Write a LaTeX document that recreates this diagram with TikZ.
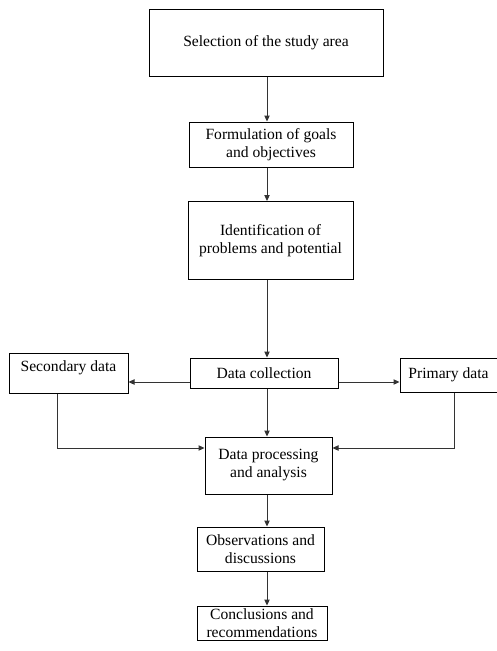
\documentclass[tikz,border=0pt]{standalone}
\usepackage{fontspec}
\setmainfont{Liberation Serif}
\usetikzlibrary{arrows.meta}
\begin{document}
\begin{tikzpicture}[x=0.75pt,y=-0.75pt,
  box/.style={draw=black,line width=0.75pt,inner sep=0pt,align=center,
    font=\fontsize{11.7}{13.5}\selectfont},
  lbl/.style={inner sep=0pt,align=center,font=\fontsize{11.7}{13.5}\selectfont},
  conn/.style={draw=black!80,line width=0.75pt},
  arr/.style={conn,-{Triangle[length=4.5pt,width=4pt]}}]
\useasboundingbox (0,0) rectangle (497,651);
% boxes
\node[box,minimum width=234*0.75pt,minimum height=67*0.75pt] (sel) at (266,42.5) {Selection of the study area};
\node[box,minimum width=164*0.75pt,minimum height=45*0.75pt] (form) at (271,144.5) {Formulation of goals\\and objectives};
\node[box,minimum width=165*0.75pt,minimum height=78*0.75pt] (ident) at (270.5,240.5) {Identification of\\problems and potential};
\node[box,minimum width=148*0.75pt,minimum height=30*0.75pt] (dc) at (264,373) {Data collection};
\node[box,minimum width=119*0.75pt,minimum height=40*0.75pt] (sec) at (68.5,373) {};
\node[lbl] (sectext) at (68.5,368) {Secondary data};
\node[box,minimum width=97*0.75pt,minimum height=34*0.75pt] (prim) at (448.5,375) {Primary data};
\node[box,minimum width=127*0.75pt,minimum height=57*0.75pt] (dp) at (268.5,465.5) {Data processing\\and analysis};
\node[box,minimum width=127*0.75pt,minimum height=44*0.75pt] (obs) at (260.5,549) {Observations and\\discussions};
\node[box,minimum width=130*0.75pt,minimum height=34*0.75pt] (conc) at (262,623) {Conclusions and\\recommendations};
% helper coordinates
\coordinate (cx) at (267,0);
\coordinate (hy) at (0,382);
\coordinate (sx) at (57,0);
\coordinate (px) at (454,0);
\coordinate (my) at (0,448);
% connectors
\draw[arr] (sel.south -| cx) -- (form.north -| cx);
\draw[arr] (form.south -| cx) -- (ident.north -| cx);
\draw[arr] (ident.south -| cx) -- (dc.north -| cx);
\draw[arr] (dc.west |- hy) -- (sec.east |- hy);
\draw[arr] (dc.east |- hy) -- (prim.west |- hy);
\draw[arr] (dc.south -| cx) -- (dp.north -| cx);
\draw[arr] (sec.south -| sx) |- (dp.west |- my);
\draw[arr] (prim.south -| px) |- (dp.east |- my);
\draw[arr] (dp.south -| cx) -- (obs.north -| cx);
\draw[arr] (obs.south -| cx) -- (conc.north -| cx);
\end{tikzpicture}
\end{document}
